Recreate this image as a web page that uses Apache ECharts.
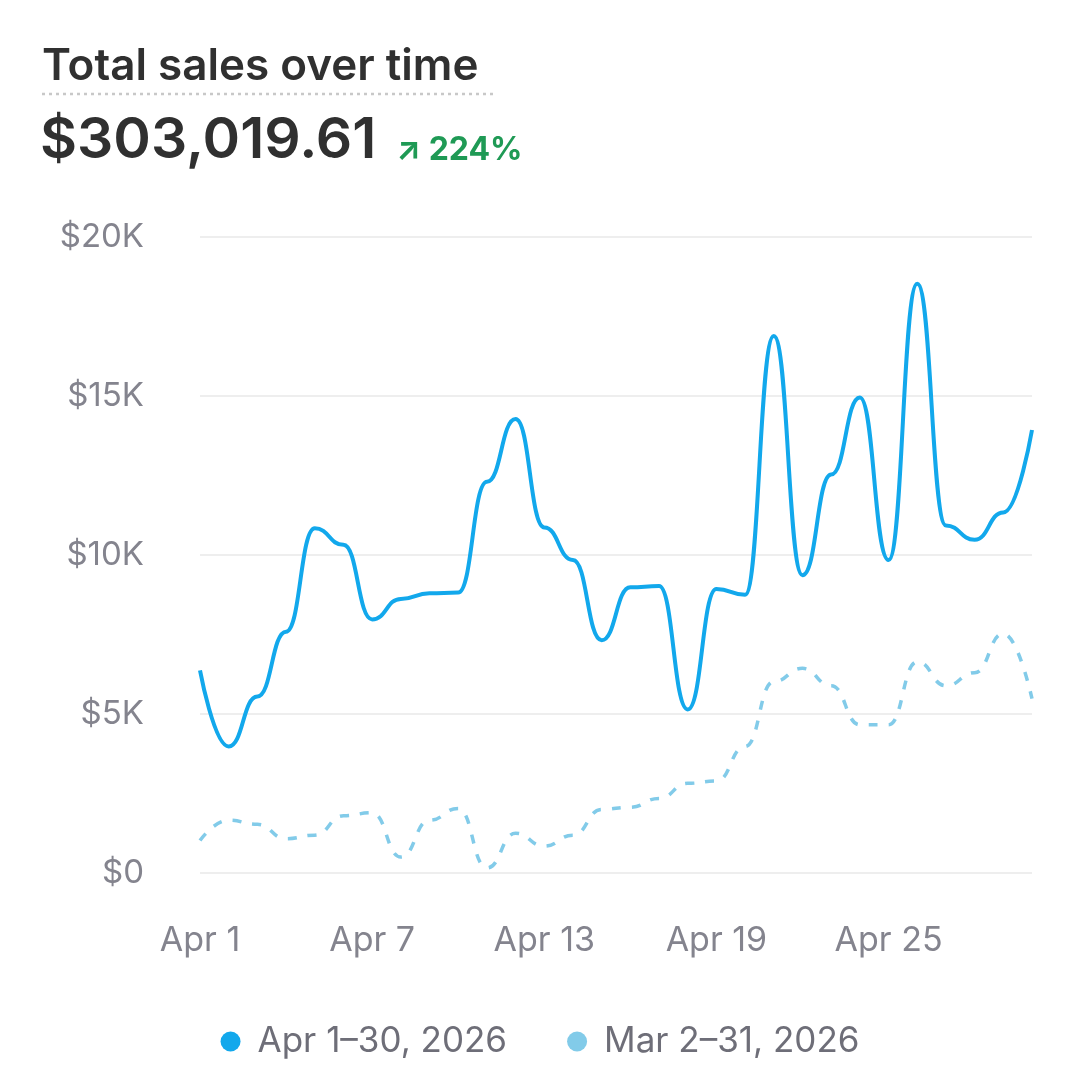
<!DOCTYPE html>
<html>
<head>
<meta charset="utf-8">
<script src="https://cdn.jsdelivr.net/npm/echarts@6/dist/echarts.min.js"></script>
<style>
  html, body { margin: 0; padding: 0; background: #fff; }
  #main { width: 1080px; height: 1080px; }
</style>
</head>
<body>
<div id="main"></div>
<script>
// days of April 2026
const days = [];
for (let d = 1; d <= 30; d++) days.push('Apr ' + d);

const currentName = 'Apr 1\u201330, 2026';
const previousName = 'Mar 2\u201331, 2026';

const currentSales = [
  6370, 3980, 5550, 7590, 10840, 10320, 7975, 8620, 8795, 8820,
  12300, 14275, 10865, 9845, 7320, 8985, 9025, 5140, 8930, 8750,
  16890, 9365, 12530, 14955, 9840, 18530, 10930, 10480, 11340, 13930,
];
const previousSales = [
  1020, 1660, 1530, 1080, 1190, 1800, 1895, 500, 1660, 2030,
  160, 1250, 845, 1190, 2000, 2070, 2345, 2820, 2890, 3980,
  6025, 6435, 5890, 4660, 4660, 6640, 5890, 6300, 7525, 5480,
];

const chart = echarts.init(document.getElementById('main'));

const option = {
  animation: false,
  textStyle: { fontFamily: 'Inter, sans-serif' },
  graphic: [
    {
      type: 'text',
      left: 42,
      top: 45,
      style: { text: 'Total sales over time', fontSize: 44, fontWeight: 600, fill: '#303030', fontFamily: 'Inter' },
    },
    {
      type: 'line',
      shape: { x1: 42, y1: 94, x2: 496, y2: 94 },
      style: { stroke: '#c8c8c8', lineWidth: 2.5, lineDash: [3, 4] },
    },
    {
      type: 'text',
      left: 40,
      top: 112,
      style: { text: '$303,019.61', fontSize: 57, fontWeight: 600, fill: '#303030', fontFamily: 'Inter' },
    },
    {
      type: 'text',
      left: 396,
      top: 134,
      style: { text: '\u2197 224%', fontSize: 32, fontWeight: 700, fill: '#1f9a55', fontFamily: 'Inter' },
    },
  ],
  grid: {
    left: 200,
    right: 48,
    top: 237,
    bottom: 207,
  },
  legend: {
    bottom: 16,
    left: 'center',
    icon: 'circle',
    itemWidth: 20,
    itemHeight: 20,
    itemGap: 60,
    textStyle: { color: '#6e6e78', fontSize: 35, padding: [0, 0, 0, 12] },
    data: [currentName, previousName],
  },
  xAxis: {
    type: 'category',
    boundaryGap: false,
    data: days,
    axisLine: { show: false },
    axisTick: { show: false },
    axisLabel: { interval: 5, color: '#84848e', fontSize: 34, margin: 51 },
  },
  yAxis: {
    type: 'value',
    min: 0,
    max: 20000,
    interval: 5000,
    axisLabel: {
      color: '#84848e',
      fontSize: 33,
      margin: 56,
      formatter: (v) => '$' + (v === 0 ? '0' : v / 1000 + 'K'),
    },
    splitLine: { lineStyle: { color: '#eeeeee', width: 2 } },
  },
  series: [
    {
      name: previousName,
      type: 'line',
      data: previousSales,
      smooth: 0.5,
      smoothMonotone: 'x',
      showSymbol: false,
      color: '#82cbe9',
      lineStyle: { width: 3.5, type: [9, 11], color: '#82cbe9' },
    },
    {
      name: currentName,
      type: 'line',
      data: currentSales,
      smooth: 0.5,
      smoothMonotone: 'x',
      showSymbol: false,
      color: '#12a8ec',
      lineStyle: { width: 4, color: '#12a8ec' },
    },
  ],
};

chart.setOption(option);
</script>
</body>
</html>
